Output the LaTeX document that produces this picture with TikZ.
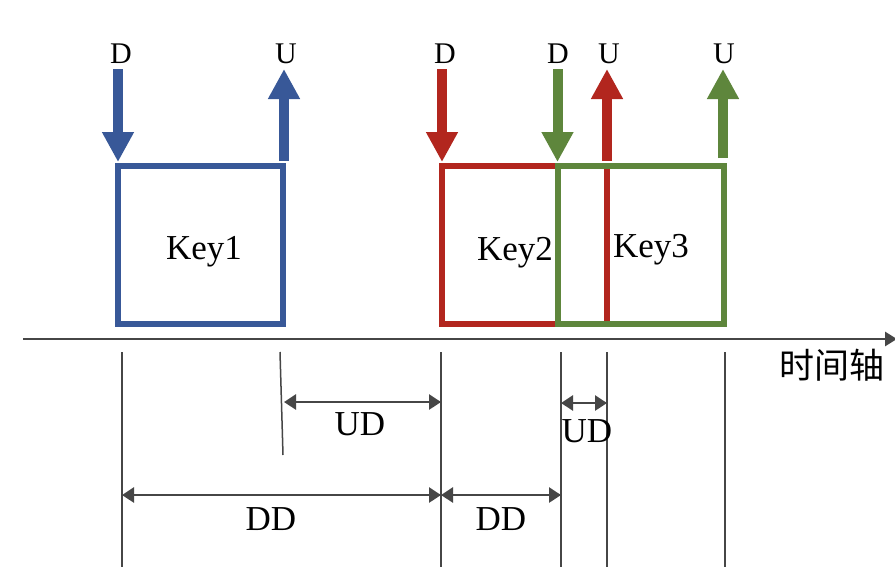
\documentclass[tikz,border=0pt]{standalone}
\usepackage{fontspec}
\setmainfont{Liberation Serif}
\newfontfamily\cjkfont{Noto Sans CJK SC}
\usetikzlibrary{arrows.meta}
\definecolor{kblue}{RGB}{56,88,152}
\definecolor{kred}{RGB}{178,38,30}
\definecolor{kgreen}{RGB}{94,134,60}
\definecolor{axisgray}{RGB}{70,70,70}
\tikzset{
  keybox/.style={draw, line width=5.5pt, minimum width=0pt},
  keyarrow/.style={line width=10pt, -{Triangle[width=30pt,length=30pt]}},
  dimarrow/.style={axisgray, line width=2.8pt, {Triangle[width=15pt,length=12pt]}-{Triangle[width=15pt,length=12pt]}},
  tick/.style={axisgray, line width=1.5pt},
  evlabel/.style={anchor=base, inner sep=0pt, font=\fontsize{30}{36}\selectfont},
  keylabel/.style={anchor=base, inner sep=0pt, font=\fontsize{35}{42}\selectfont},
  dimlabel/.style={anchor=base, inner sep=0pt, font=\fontsize{35}{40}\selectfont},
}
\begin{document}
\begin{tikzpicture}[x=1pt,y=-1pt]
\useasboundingbox (0,0) rectangle (895,584);
\fill[white] (0,0) rectangle (895,584);
% boxes
\draw[kblue, keybox] (118,166) rectangle (283,324);
\draw[kred, keybox] (442,166) rectangle (607,324);
\draw[kgreen, keybox] (558,166) rectangle (724,324);
\draw[kred, line width=5.5pt] (607,169) -- (607,321);
% key labels
\node[keylabel] (key1) at (204,259) {Key1};
\node[keylabel] (key2) at (515,260) {Key2};
\node[keylabel] (key3) at (651,257) {Key3};
% event arrows coordinates
\coordinate (bDs) at (118,69);  \coordinate (bDe) at (118,162);
\coordinate (bUs) at (284,161); \coordinate (bUe) at (284,69);
\coordinate (rDs) at (442,69);  \coordinate (rDe) at (442,162);
\coordinate (gDs) at (557.5,69);  \coordinate (gDe) at (557.5,162);
\coordinate (rUs) at (607,161); \coordinate (rUe) at (607,69);
\coordinate (gUs) at (723,158); \coordinate (gUe) at (723,69);
\draw[kblue, keyarrow] (bDs) -- (bDe);
\draw[kblue, keyarrow] (bUs) -- (bUe);
\draw[kred, keyarrow] (rDs) -- (rDe);
\draw[kgreen, keyarrow] (gDs) -- (gDe);
\draw[kred, keyarrow] (rUs) -- (rUe);
\draw[kgreen, keyarrow] (gUs) -- (gUe);
% event labels
\node[evlabel] (lbD) at (121,63) {D};
\node[evlabel] (lbU) at (286,63) {U};
\node[evlabel] (lrD) at (445,63) {D};
\node[evlabel] (lgD) at (558,63) {D};
\node[evlabel] (lrU) at (609,63) {U};
\node[evlabel] (lgU) at (724,63) {U};
% axis
\coordinate (ax0) at (23,339);
\coordinate (ax1) at (897,339);
\draw[axisgray, line width=2.8pt, -{Triangle[width=14pt,length=12pt]}] (ax0) -- (ax1);
\node[inner sep=0pt, font=\cjkfont\fontsize{35}{40}\selectfont] (axl) at (832,365) {时间轴};
% ticks
\coordinate (t1a) at (122,352); \coordinate (t1b) at (122,567);
\coordinate (t2a) at (280,352); \coordinate (t2b) at (283,455);
\coordinate (t3a) at (441,352); \coordinate (t3b) at (441,567);
\coordinate (t4a) at (561,352); \coordinate (t4b) at (561,567);
\coordinate (t5a) at (607,352); \coordinate (t5b) at (607,567);
\coordinate (t6a) at (725,352); \coordinate (t6b) at (725,567);
\draw[tick] (t1a) -- (t1b);
\draw[tick] (t2a) -- (t2b);
\draw[tick] (t3a) -- (t3b);
\draw[tick] (t4a) -- (t4b);
\draw[tick] (t5a) -- (t5b);
\draw[tick] (t6a) -- (t6b);
% dimension arrows
\coordinate (ud1a) at (284,402); \coordinate (ud1b) at (441,402);
\coordinate (ud2a) at (561,403); \coordinate (ud2b) at (607,403);
\coordinate (dd1a) at (122,495); \coordinate (dd1b) at (441,495);
\coordinate (dd2a) at (441,495); \coordinate (dd2b) at (561,495);
\draw[dimarrow] (ud1a) -- (ud1b);
\draw[dimarrow] (ud2a) -- (ud2b);
\draw[dimarrow] (dd1a) -- (dd1b);
\draw[dimarrow] (dd2a) -- (dd2b);
\node[dimlabel] (ud1) at (360,435) {UD};
\node[dimlabel] (ud2) at (587,442) {UD};
\node[dimlabel] (dd1) at (271,530) {DD};
\node[dimlabel] (dd2) at (501,530) {DD};
\end{tikzpicture}
\end{document}
